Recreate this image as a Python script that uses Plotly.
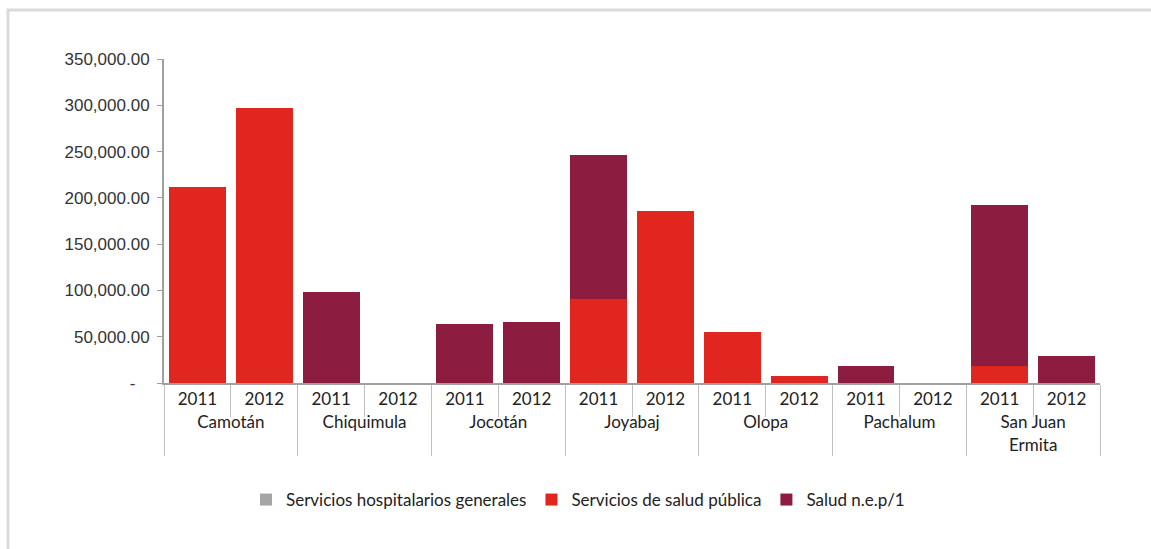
import plotly.graph_objects as go

municipios = ["Camotán", "Camotán", "Chiquimula", "Chiquimula", "Jocotán", "Jocotán",
              "Joyabaj", "Joyabaj", "Olopa", "Olopa", "Pachalum", "Pachalum",
              "San Juan<br>Ermita", "San Juan<br>Ermita"]
anios = ["2011", "2012"] * 7

hospitalarios = [0] * 14
salud_publica = [212000, 297000, 0, 0, 0, 0, 90700, 185800, 55100, 7600, 0, 0, 18400, 0]
salud_nep = [0, 0, 98500, 0, 63700, 65900, 155500, 0, 0, 0, 18400, 0, 173800, 29200]

y_tickvals = [0, 50000, 100000, 150000, 200000, 250000, 300000, 350000]
y_ticktext = ["-\u00a0\u00a0\u00a0", "50,000.00", "100,000.00", "150,000.00",
              "200,000.00", "250,000.00", "300,000.00", "350,000.00"]

x = [municipios, anios]

fig = go.Figure()
fig.add_trace(go.Bar(x=x, y=hospitalarios, name="Servicios hospitalarios generales",
                     marker=dict(color="#a5a5a5", line=dict(width=0))))
fig.add_trace(go.Bar(x=x, y=salud_publica, name="Servicios de salud pública",
                     marker=dict(color="#e0261e", line=dict(width=0))))
fig.add_trace(go.Bar(x=x, y=salud_nep, name="Salud n.e.p/1",
                     marker=dict(color="#8c1c40", line=dict(width=0))))

label_font = "Lato, Open Sans, sans-serif"
L, R, T, B = 164, 51, 59, 166
W, H = 1151, 549
pw, ph = W - L - R, H - T - B

fig.update_layout(
    barmode="stack",
    bargap=0.15,
    width=W, height=H,
    margin=dict(l=L, r=R, t=T, b=B, autoexpand=False),
    paper_bgcolor="white", plot_bgcolor="white",
    showlegend=True,
    legend=dict(orientation="h", x=(578 - L) / pw, xanchor="center",
                y=(T + ph - 500) / ph, yanchor="middle",
                font=dict(family=label_font, size=17, color="#222222"),
                itemwidth=30, traceorder="normal"),
    xaxis=dict(type="multicategory", showline=True, linecolor="#a0a0a0", linewidth=2,
               ticks="outside", tickson="boundaries", ticklen=32, tickcolor="#c0c0c0",
               showdividers=True, dividercolor="#c0c0c0", dividerwidth=1,
               tickfont=dict(family=label_font, size=17, color="#222222"),
               showgrid=False, automargin=False),
    yaxis=dict(range=[0, 350000], tickvals=y_tickvals, ticktext=y_ticktext,
               showline=True, linecolor="#a0a0a0", linewidth=2, ticks="outside",
               ticklen=5, tickcolor="#a0a0a0", showgrid=False, zeroline=False,
               automargin=False, ticklabelstandoff=4,
               tickfont=dict(family="Liberation Sans, Arial, sans-serif", size=17, color="#333333")),
    shapes=[dict(type="rect", xref="paper", yref="paper",
                 x0=(8 - L) / pw, x1=(1175 - L) / pw,
                 y0=(T + ph - 570) / ph, y1=(T + ph - 10) / ph,
                 line=dict(color="#d9dcdc", width=3), fillcolor="rgba(0,0,0,0)", layer="below")],
)

fig.write_html("out.html", config={"displayModeBar": False},
               post_script="document.body.style.margin='0';")
